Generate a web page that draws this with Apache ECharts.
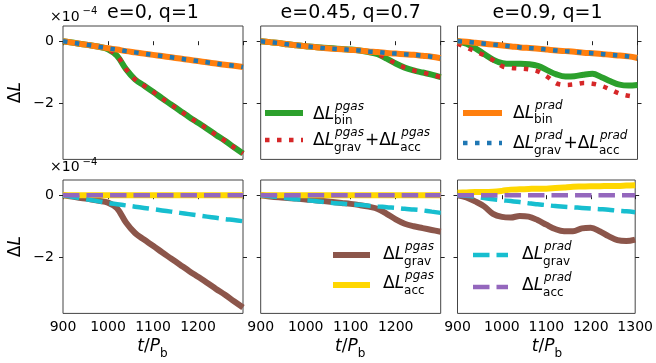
<!DOCTYPE html>
<html>
<head>
<meta charset="utf-8">
<script src="https://cdn.jsdelivr.net/npm/echarts@6.0.0/dist/echarts.min.js"></script>
<style>
  html, body { margin: 0; padding: 0; background: #fff; }
  #chart { width: 656px; height: 363px; }
</style>
</head>
<body>
<div id="chart"></div>
<script>
// time in binary periods, t / P_b
const times = [900, 920, 940, 960, 980, 1000, 1020, 1040, 1060, 1080, 1100,
  1120, 1140, 1160, 1180, 1200, 1220, 1240, 1260, 1280, 1300]

// all values in units of 1e-4
// e=0, q=1
const binPgasE0 = [0, -0.04, -0.09, -0.13, -0.18, -0.26, -0.47, -0.9, -1.23, -1.43, -1.63, -1.84, -2.04, -2.24, -2.44, -2.63, -2.82, -3.02, -3.21, -3.42, -3.62]
const sumPgasE0 = [0, -0.04, -0.09, -0.13, -0.18, -0.26, -0.47, -0.9, -1.23, -1.43, -1.63, -1.84, -2.04, -2.24, -2.44, -2.63, -2.82, -3.02, -3.21, -3.42, -3.62]
const binPradE0 = [0, -0.045, -0.09, -0.13, -0.18, -0.23, -0.27, -0.32, -0.36, -0.4, -0.44, -0.48, -0.52, -0.56, -0.6, -0.64, -0.68, -0.72, -0.76, -0.79, -0.83]
const sumPradE0 = [0, -0.045, -0.09, -0.13, -0.18, -0.23, -0.27, -0.32, -0.36, -0.4, -0.44, -0.48, -0.52, -0.56, -0.6, -0.64, -0.68, -0.72, -0.76, -0.79, -0.83]
const gravPgasE0 = [0, -0.04, -0.09, -0.13, -0.18, -0.24, -0.42, -0.88, -1.22, -1.43, -1.63, -1.84, -2.04, -2.24, -2.44, -2.63, -2.82, -3.02, -3.21, -3.42, -3.62]
const accPgasE0 = [0, 0, 0, 0, 0, 0, 0, 0, 0, 0, 0, 0, 0, 0, 0, 0, 0, 0, 0, 0, 0]
const gravPradE0 = [0, -0.05, -0.1, -0.15, -0.2, -0.25, -0.29, -0.33, -0.37, -0.41, -0.45, -0.49, -0.53, -0.57, -0.61, -0.65, -0.69, -0.73, -0.77, -0.8, -0.84]
const accPradE0 = [0, 0, 0, 0, 0, 0, 0, 0, 0, 0, 0, 0, 0, 0, 0, 0, 0, 0, 0, 0, 0]

// e=0.45, q=0.7
const binPgasE45 = [0, -0.03, -0.06, -0.1, -0.13, -0.16, -0.19, -0.21, -0.23, -0.25, -0.27, -0.3, -0.35, -0.42, -0.56, -0.72, -0.85, -0.94, -1.01, -1.08, -1.16]
const sumPgasE45 = [0, -0.03, -0.06, -0.1, -0.13, -0.16, -0.19, -0.21, -0.23, -0.25, -0.27, -0.3, -0.35, -0.42, -0.56, -0.72, -0.85, -0.94, -1.01, -1.08, -1.16]
const binPradE45 = [0, -0.03, -0.06, -0.1, -0.13, -0.16, -0.19, -0.22, -0.24, -0.26, -0.28, -0.3, -0.33, -0.35, -0.38, -0.4, -0.42, -0.44, -0.47, -0.5, -0.55]
const sumPradE45 = [0, -0.03, -0.06, -0.1, -0.13, -0.16, -0.19, -0.22, -0.24, -0.26, -0.28, -0.3, -0.33, -0.35, -0.38, -0.4, -0.42, -0.44, -0.47, -0.5, -0.55]
const gravPgasE45 = [0, -0.04, -0.07, -0.09, -0.11, -0.14, -0.16, -0.19, -0.22, -0.25, -0.28, -0.32, -0.37, -0.44, -0.6, -0.78, -0.92, -1.0, -1.06, -1.12, -1.18]
const accPgasE45 = [0, 0, 0, 0, 0, 0, 0, 0, 0, 0, 0, 0, 0, 0, 0, 0, 0, 0, 0, 0, 0]
const gravPradE45 = [0, -0.03, -0.06, -0.1, -0.13, -0.16, -0.19, -0.22, -0.25, -0.27, -0.29, -0.31, -0.34, -0.36, -0.39, -0.41, -0.44, -0.46, -0.49, -0.53, -0.57]
const accPradE45 = [0, 0, 0, 0, 0, 0, 0, 0, 0, 0, 0, 0, 0, 0, 0, 0, 0, 0, 0, 0, 0]

// e=0.9, q=1
const binPgasE9 = [0, -0.08, -0.23, -0.42, -0.6, -0.71, -0.73, -0.73, -0.74, -0.8, -0.94, -1.07, -1.14, -1.13, -1.08, -1.05, -1.16, -1.29, -1.4, -1.43, -1.41]
const sumPgasE9 = [-0.08, -0.2, -0.33, -0.46, -0.62, -0.81, -0.86, -0.88, -0.91, -0.98, -1.15, -1.36, -1.41, -1.39, -1.35, -1.37, -1.44, -1.56, -1.69, -1.76, -1.8]
const binPradE9 = [0, -0.02, -0.05, -0.08, -0.11, -0.14, -0.17, -0.2, -0.22, -0.24, -0.27, -0.3, -0.32, -0.34, -0.37, -0.39, -0.41, -0.44, -0.46, -0.49, -0.54]
const sumPradE9 = [0, -0.02, -0.05, -0.08, -0.11, -0.14, -0.17, -0.2, -0.22, -0.24, -0.27, -0.3, -0.32, -0.34, -0.37, -0.39, -0.41, -0.44, -0.46, -0.49, -0.54]
const gravPgasE9 = [0, -0.07, -0.2, -0.36, -0.6, -0.7, -0.72, -0.67, -0.69, -0.8, -0.95, -1.09, -1.16, -1.16, -1.07, -1.05, -1.16, -1.32, -1.45, -1.48, -1.43]
const accPgasE9 = [0.08, 0.09, 0.1, 0.1, 0.11, 0.14, 0.18, 0.19, 0.2, 0.21, 0.21, 0.23, 0.25, 0.27, 0.28, 0.29, 0.29, 0.3, 0.3, 0.31, 0.32]
const gravPradE9 = [0, -0.02, -0.05, -0.09, -0.13, -0.16, -0.19, -0.22, -0.26, -0.29, -0.32, -0.35, -0.37, -0.39, -0.41, -0.43, -0.45, -0.47, -0.5, -0.52, -0.55]
const accPradE9 = [0, 0, 0, 0, 0, 0, 0, 0, 0, 0, 0, 0, 0, 0, 0, 0, 0, 0, 0, 0, 0]

const panelTitles = ['e=0, q=1', 'e=0.45, q=0.7', 'e=0.9, q=1']
const yTicks = [-2, 0]

const FONT = '"DejaVu Sans", sans-serif'
const C = {
  green: '#2ca02c', red: '#d62728', orange: '#ff7f0e', blue: '#1f77b4',
  brown: '#8c564b', gold: '#ffd700', cyan: '#17becf', purple: '#9467bd'
}
const solid = { type: 'solid', width: 6 }
const dotted = { type: [4.5, 7.5], width: 4.5, cap: 'butt' }
const dashed = { type: [16.5, 7], width: 4.5, cap: 'butt' }

// layout (px)
const colLeft = [63, 260.7, 457.5]
const colWidth = 180
const rowTop = [26, 180]
const rowHeight = 133.4
const yMin = -3.81, yMax = 0.49

const topRow = [
  [binPgasE0, sumPgasE0, binPradE0, sumPradE0],
  [binPgasE45, sumPgasE45, binPradE45, sumPradE45],
  [binPgasE9, sumPgasE9, binPradE9, sumPradE9]
]
const bottomRow = [
  [gravPgasE0, accPgasE0, gravPradE0, accPradE0],
  [gravPgasE45, accPgasE45, gravPradE45, accPradE45],
  [gravPgasE9, accPgasE9, gravPradE9, accPradE9]
]
const topStyles = [[C.green, solid], [C.red, dotted], [C.orange, solid], [C.blue, dotted]]
const bottomStyles = [[C.brown, solid], [C.gold, solid], [C.cyan, dashed], [C.purple, dashed]]

const minus = v => (v < 0 ? '\u2212' + Math.abs(v) : String(v))

// text measuring for the little mathtext labels
const mctx = document.createElement('canvas').getContext('2d')
function textWidth(s, size, it) {
  mctx.font = (it ? 'italic ' : '') + size + 'px ' + FONT
  return mctx.measureText(s).width
}
function txt(x, y, s, size, it, align) {
  return {
    type: 'text', x: x, y: y, silent: true, z: 100,
    style: {
      text: s, font: (it ? 'italic ' : '') + size + 'px ' + FONT, fill: '#000',
      align: align || 'left', textAlign: align || 'left',
      verticalAlign: 'middle', textVerticalAlign: 'middle'
    }
  }
}
function mathWidth(parts, size) {
  const small = Math.round(size * 0.7)
  let w = 0
  parts.forEach(p => {
    if (p.t !== undefined) w += textWidth(p.t, size, p.it)
    else w += Math.max(p.sup ? textWidth(p.sup, small, true) + 1 : 0, p.sub ? textWidth(p.sub, small, false) : 0) + 1
  })
  return w
}
function mathText(x, y, parts, size) {
  const small = Math.round(size * 0.7)
  const out = []
  let cx = x
  parts.forEach(p => {
    if (p.t !== undefined) {
      out.push(txt(cx, y, p.t, size, p.it))
      cx += textWidth(p.t, size, p.it)
    } else {
      let w = 0
      if (p.sup) {
        out.push(txt(cx + 1, y - size * 0.45, p.sup, small, true))
        w = Math.max(w, textWidth(p.sup, small, true) + 1)
      }
      if (p.sub) {
        out.push(txt(cx, y + size * 0.4, p.sub, small, false))
        w = Math.max(w, textWidth(p.sub, small, false))
      }
      cx += w + 1
    }
  })
  return out
}
const dL = [{ t: '\u0394' }, { t: 'L', it: true }]
const term = (sup, sub) => dL.concat([{ sup: sup, sub: sub }])

function legendItem(x1, x2, y, color, ls, tx, ty, parts) {
  return [
    {
      type: 'line', silent: true, z: 100,
      shape: { x1: x1, y1: y, x2: x2, y2: y },
      style: { stroke: color, lineWidth: ls.width, lineDash: ls.type === 'solid' ? null : ls.type, lineCap: 'butt' }
    }
  ].concat(mathText(tx, ty, parts, 17))
}

const grids = [], xAxes = [], yAxes = [], series = []
for (let r = 0; r < 2; r++) {
  for (let c = 0; c < 3; c++) {
    const g = grids.length
    grids.push({
      left: colLeft[c], top: rowTop[r], width: colWidth, height: rowHeight,
      show: true, borderColor: '#444', borderWidth: 1, backgroundColor: 'transparent'
    })
    xAxes.push({
      gridIndex: g, type: 'value', min: 900, max: 1300, interval: 100,
      axisLine: { show: false },
      axisTick: { show: true, length: 4, lineStyle: { color: '#222' } },
      splitLine: { show: false },
      axisLabel: {
        show: r === 1, margin: 7, fontFamily: FONT, fontSize: 14, color: '#000',
        formatter: v => (c < 2 && v === 1300 ? '' : String(v))
      }
    })
    const yBase = {
      gridIndex: g, type: 'value', min: yMin, max: yMax,
      axisLine: { show: false }, splitLine: { show: false }
    }
    yAxes.push(Object.assign({}, yBase, {
      position: 'left',
      axisTick: { show: true, length: 4, customValues: yTicks, lineStyle: { color: '#222' } },
      axisLabel: {
        show: c === 0, customValues: yTicks, margin: 9, fontFamily: FONT, fontSize: 14, color: '#000',
        formatter: minus
      }
    }))
    yAxes.push(Object.assign({}, yBase, {
      position: 'right',
      axisTick: { show: true, length: 4, customValues: yTicks, lineStyle: { color: '#222' } },
      axisLabel: { show: false }
    }))
    const sets = r === 0 ? topRow[c] : bottomRow[c]
    const styles = r === 0 ? topStyles : bottomStyles
    sets.forEach((arr, k) => {
      series.push({
        type: 'line', xAxisIndex: g, yAxisIndex: g * 2,
        data: times.map((t, i) => [t, arr[i]]),
        showSymbol: false, symbol: 'none', smooth: 0.35,
        lineStyle: { color: styles[k][0], width: styles[k][1].width, type: styles[k][1].type, cap: 'butt' },
        z: 2 + k
      })
    })
  }
}

let graphics = []
// panel titles
panelTitles.forEach((s, c) => graphics.push(txt(colLeft[c] + colWidth / 2, 13.5, s, 19, false, 'center')))
// offset text
;[[17, 11.5], [167.5, 162.5]].forEach(([y1, y2]) => {
  graphics.push(txt(50, y1, '\u00d710', 14, false))
  graphics.push(txt(82.5, y2, '\u22124', 10, false))
})
// y labels
;[rowTop[0] + rowHeight / 2, rowTop[1] + rowHeight / 2].forEach(cy => {
  const w = mathWidth(dL, 17)
  graphics.push({ type: 'group', x: 16, y: cy, rotation: Math.PI / 2, children: mathText(-w / 2, 0, dL, 17) })
})
// x labels
colLeft.forEach(l => {
  const parts = [{ t: 't', it: true }, { t: '/' }, { t: 'P', it: true }, { sub: 'b' }]
  const w = mathWidth(parts, 17)
  graphics = graphics.concat(mathText(l + colWidth / 2 - w / 2, 347, parts, 17))
})
// legends
graphics = graphics
  .concat(legendItem(265, 303, 113, C.green, solid, 313, 114.5, term('pgas', 'bin')))
  .concat(legendItem(265, 303, 140, C.red, dotted, 313, 141, term('pgas', 'grav').concat([{ t: '+' }], term('pgas', 'acc'))))
  .concat(legendItem(463, 502, 113, C.orange, solid, 513, 113.5, term('prad', 'bin')))
  .concat(legendItem(463, 502, 143, C.blue, dotted, 513, 144, term('prad', 'grav').concat([{ t: '+' }], term('prad', 'acc'))))
  .concat(legendItem(333, 370, 255, C.brown, solid, 383, 255, term('pgas', 'grav')))
  .concat(legendItem(333, 370, 285, C.gold, solid, 383, 284, term('pgas', 'acc')))
  .concat(legendItem(473, 508, 255, C.cyan, dashed, 522, 255, term('prad', 'grav')))
  .concat(legendItem(473, 508, 287, C.purple, dashed, 522, 286, term('prad', 'acc')))

const chart = echarts.init(document.getElementById('chart'), null, { renderer: 'canvas' })
chart.setOption({
  animation: false,
  backgroundColor: '#fff',
  grid: grids,
  xAxis: xAxes,
  yAxis: yAxes,
  series: series,
  graphic: { elements: graphics }
})
</script>
</body>
</html>
